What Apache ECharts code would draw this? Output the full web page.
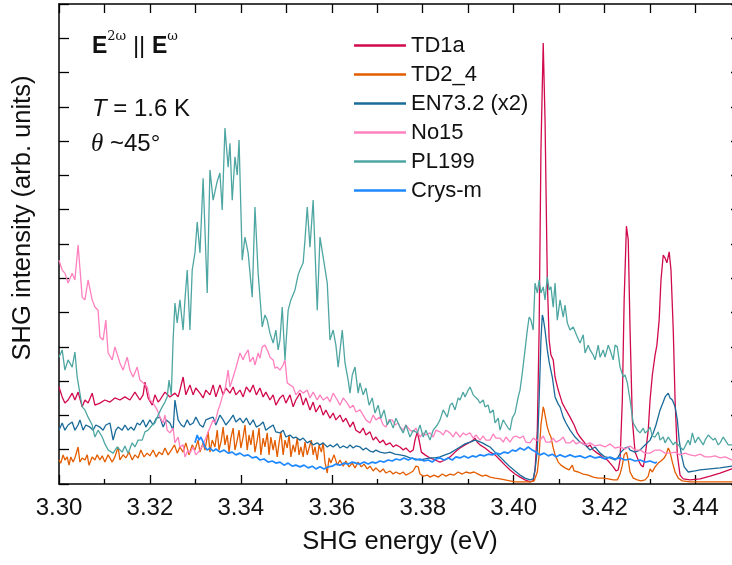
<!DOCTYPE html>
<html>
<head>
<meta charset="utf-8">
<style>
  html, body { margin: 0; padding: 0; background: #fff; }
  #chart { width: 732px; height: 565px; }
</style>
<script src="https://cdn.jsdelivr.net/npm/echarts@6/dist/echarts.min.js"></script>
</head>
<body>
<div id="chart"></div>
<script>
// SHG spectra, intensity in arbitrary units (EN73.2 shown x2)
const energyTicks = [3.30, 3.32, 3.34, 3.36, 3.38, 3.40, 3.42, 3.44];

const seriesNames = ['TD1a', 'TD2_4', 'EN73.2 (x2)', 'No15', 'PL199', 'Crys-m'];
const seriesColors = ['#d10a4e', '#e35d00', '#1a6b9a', '#ff80bf', '#4ea6a2', '#1e88ff'];
const seriesWidths = [1.3, 1.3, 1.3, 1.3, 1.3, 1.7];

const td1a = [
  [3.3000,2.83],[3.3007,2.54],[3.3013,2.36],[3.3020,2.45],[3.3029,2.65],[3.3035,2.45],[3.3042,2.68],[3.3051,2.25],
  [3.3057,2.45],[3.3064,2.36],[3.3073,2.65],[3.3079,2.30],[3.3090,2.36],[3.3101,2.45],[3.3112,2.39],[3.3123,2.51],
  [3.3134,2.45],[3.3145,2.54],[3.3156,2.45],[3.3167,2.68],[3.3178,2.45],[3.3185,2.60],[3.3189,2.97],[3.3196,2.51],
  [3.3205,2.30],[3.3211,2.60],[3.3218,2.39],[3.3222,2.45],[3.3233,2.68],[3.3244,2.54],[3.3255,2.65],[3.3262,2.54],
  [3.3266,2.74],[3.3273,3.12],[3.3279,2.60],[3.3288,2.89],[3.3295,2.60],[3.3301,2.80],[3.3310,2.65],[3.3317,2.51],
  [3.3323,2.74],[3.3332,2.60],[3.3339,2.89],[3.3345,2.54],[3.3354,2.89],[3.3361,2.60],[3.3367,2.80],[3.3376,2.65],
  [3.3383,2.83],[3.3389,2.60],[3.3398,2.74],[3.3405,2.54],[3.3412,2.83],[3.3420,2.68],[3.3427,2.89],[3.3434,2.60],
  [3.3442,2.80],[3.3449,2.54],[3.3455,2.68],[3.3464,2.45],[3.3471,2.60],[3.3477,2.30],[3.3486,2.51],[3.3493,2.60],
  [3.3499,2.36],[3.3508,2.60],[3.3515,2.25],[3.3521,2.45],[3.3530,2.65],[3.3537,2.30],[3.3543,2.51],[3.3552,2.16],
  [3.3559,2.39],[3.3565,2.10],[3.3574,2.30],[3.3581,2.01],[3.3587,2.16],[3.3596,1.92],[3.3603,2.07],[3.3609,1.87],
  [3.3618,2.01],[3.3625,1.81],[3.3631,1.92],[3.3640,1.66],[3.3647,1.81],[3.3653,1.57],[3.3662,1.49],[3.3669,1.63],
  [3.3675,1.43],[3.3684,1.52],[3.3691,1.28],[3.3697,1.37],[3.3706,1.20],[3.3713,1.28],[3.3719,1.14],[3.3728,1.20],
  [3.3735,1.08],[3.3741,1.14],[3.3750,1.08],[3.3757,0.99],[3.3763,1.05],[3.3772,0.93],[3.3779,0.99],[3.3783,1.28],
  [3.3788,1.52],[3.3792,1.28],[3.3797,0.93],[3.3805,0.85],[3.3816,0.76],[3.3827,0.70],[3.3838,0.64],[3.3849,0.70],
  [3.3860,0.79],[3.3871,0.93],[3.3882,1.05],[3.3893,1.14],[3.3904,1.22],[3.3911,1.28],[3.3915,1.34],[3.3920,1.22],
  [3.3926,1.14],[3.3937,1.05],[3.3948,0.93],[3.3959,0.85],[3.3970,0.70],[3.3981,0.55],[3.3992,0.41],[3.4003,0.29],
  [3.4014,0.20],[3.4025,0.12],[3.4036,0.06],[3.4043,0.09],[3.4047,0.41],[3.4052,1.57],[3.4056,4.49],[3.4060,9.74],
  [3.4065,12.86],[3.4069,10.62],[3.4074,5.95],[3.4078,4.20],[3.4082,3.76],[3.4087,3.62],[3.4091,3.12],[3.4098,2.74],
  [3.4107,2.36],[3.4115,2.16],[3.4124,1.95],[3.4133,1.72],[3.4140,1.49],[3.4146,1.37],[3.4155,1.22],[3.4162,1.08],
  [3.4168,1.14],[3.4175,0.99],[3.4184,0.90],[3.4190,0.85],[3.4197,0.76],[3.4206,0.70],[3.4212,0.61],[3.4219,0.50],
  [3.4225,0.38],[3.4230,0.41],[3.4234,0.70],[3.4239,2.45],[3.4243,5.37],[3.4248,7.52],[3.4252,7.12],[3.4256,4.49],
  [3.4261,1.87],[3.4267,0.93],[3.4274,0.70],[3.4280,0.55],[3.4285,0.50],[3.4289,0.79],[3.4296,1.57],[3.4300,2.45],
  [3.4305,3.18],[3.4311,3.76],[3.4315,4.05],[3.4320,4.78],[3.4324,5.95],[3.4329,6.68],[3.4333,6.59],[3.4337,6.45],
  [3.4342,6.77],[3.4346,6.24],[3.4351,4.49],[3.4355,2.45],[3.4360,0.85],[3.4366,0.26],[3.4373,0.15],[3.4388,0.12],
  [3.4410,0.15],[3.4432,0.23],[3.4454,0.32],[3.4480,0.44],[3.4500,0.48]
];

const td2_4 = [
  [3.3000,0.70],[3.3004,0.61],[3.3009,0.85],[3.3013,0.70],[3.3018,0.79],[3.3022,0.55],[3.3026,0.79],[3.3031,0.64],
  [3.3035,0.76],[3.3042,1.08],[3.3046,0.64],[3.3051,0.76],[3.3057,0.70],[3.3062,0.85],[3.3066,0.55],[3.3073,0.79],
  [3.3079,0.70],[3.3084,0.85],[3.3090,0.70],[3.3095,0.82],[3.3101,0.64],[3.3108,0.85],[3.3112,0.90],[3.3117,0.64],
  [3.3123,0.79],[3.3130,1.08],[3.3134,0.70],[3.3141,0.85],[3.3147,0.76],[3.3154,0.93],[3.3161,0.70],[3.3167,0.85],
  [3.3174,0.76],[3.3180,0.99],[3.3187,0.79],[3.3194,0.90],[3.3200,0.82],[3.3207,0.99],[3.3214,0.79],[3.3220,0.93],
  [3.3227,0.85],[3.3233,1.05],[3.3240,0.85],[3.3247,0.99],[3.3254,1.14],[3.3260,0.90],[3.3266,1.08],[3.3273,0.93],
  [3.3279,1.20],[3.3286,0.85],[3.3293,1.14],[3.3299,0.99],[3.3306,1.28],[3.3310,0.93],[3.3317,1.20],[3.3321,0.99],
  [3.3328,1.52],[3.3332,0.93],[3.3337,1.28],[3.3343,1.08],[3.3348,1.57],[3.3352,0.99],[3.3357,1.28],[3.3361,1.66],
  [3.3365,1.14],[3.3370,1.43],[3.3374,0.93],[3.3378,1.34],[3.3383,1.63],[3.3387,0.99],[3.3392,1.28],[3.3396,1.57],
  [3.3400,1.05],[3.3405,1.37],[3.3409,1.72],[3.3414,0.99],[3.3418,1.43],[3.3422,1.14],[3.3427,1.57],[3.3431,0.93],
  [3.3436,1.28],[3.3440,1.63],[3.3444,0.85],[3.3449,1.34],[3.3453,1.08],[3.3458,1.49],[3.3462,0.85],[3.3466,1.37],
  [3.3471,0.99],[3.3475,1.28],[3.3480,0.79],[3.3484,1.20],[3.3488,1.52],[3.3493,0.85],[3.3497,1.28],[3.3502,1.05],
  [3.3506,1.43],[3.3510,0.79],[3.3515,1.14],[3.3519,0.93],[3.3524,1.34],[3.3528,0.85],[3.3532,1.08],[3.3537,0.79],
  [3.3541,1.22],[3.3546,0.85],[3.3550,1.05],[3.3555,1.28],[3.3559,0.85],[3.3563,1.08],[3.3568,0.70],[3.3572,1.14],
  [3.3577,0.93],[3.3581,1.20],[3.3585,0.64],[3.3590,0.32],[3.3594,0.76],[3.3598,0.61],[3.3605,0.85],[3.3612,0.55],
  [3.3618,0.70],[3.3625,0.52],[3.3631,0.67],[3.3638,0.50],[3.3645,0.61],[3.3651,0.47],[3.3658,0.64],[3.3665,0.50],
  [3.3671,0.58],[3.3678,0.44],[3.3684,0.52],[3.3691,0.38],[3.3697,0.47],[3.3706,0.35],[3.3713,0.44],[3.3719,0.32],
  [3.3728,0.38],[3.3735,0.29],[3.3741,0.35],[3.3750,0.29],[3.3757,0.35],[3.3763,0.26],[3.3772,0.32],[3.3779,0.38],
  [3.3785,0.52],[3.3790,0.50],[3.3794,0.29],[3.3801,0.23],[3.3810,0.26],[3.3816,0.20],[3.3825,0.26],[3.3834,0.20],
  [3.3843,0.29],[3.3851,0.23],[3.3860,0.29],[3.3869,0.26],[3.3878,0.35],[3.3887,0.29],[3.3895,0.35],[3.3904,0.32],
  [3.3913,0.35],[3.3922,0.29],[3.3931,0.23],[3.3939,0.26],[3.3948,0.20],[3.3959,0.17],[3.3970,0.15],[3.3981,0.12],
  [3.3992,0.09],[3.4003,0.06],[3.4014,0.06],[3.4025,0.06],[3.4036,0.06],[3.4045,0.09],[3.4052,0.35],[3.4056,0.85],
  [3.4060,1.72],[3.4065,2.25],[3.4067,2.16],[3.4069,2.01],[3.4074,1.66],[3.4078,1.49],[3.4082,1.37],[3.4087,1.05],
  [3.4091,0.85],[3.4098,0.64],[3.4104,0.55],[3.4113,0.47],[3.4122,0.41],[3.4129,0.55],[3.4133,0.38],[3.4142,0.35],
  [3.4153,0.29],[3.4164,0.26],[3.4175,0.20],[3.4186,0.17],[3.4197,0.17],[3.4208,0.15],[3.4219,0.12],[3.4228,0.12],
  [3.4234,0.29],[3.4239,0.55],[3.4243,0.85],[3.4248,0.93],[3.4252,0.70],[3.4256,0.35],[3.4263,0.17],[3.4272,0.12],
  [3.4280,0.09],[3.4289,0.12],[3.4296,0.23],[3.4300,0.44],[3.4305,0.35],[3.4311,0.50],[3.4318,0.61],[3.4324,0.67],
  [3.4331,0.76],[3.4335,0.85],[3.4340,1.05],[3.4344,0.93],[3.4349,0.64],[3.4355,0.35],[3.4362,0.17],[3.4371,0.09],
  [3.4388,0.06],[3.4410,0.06],[3.4443,0.06],[3.4480,0.06],[3.4500,0.06]
];

const en73 = [
  [3.3000,1.57],[3.3007,1.78],[3.3013,1.57],[3.3020,1.72],[3.3029,1.81],[3.3035,1.57],[3.3042,1.72],[3.3046,1.87],
  [3.3053,1.57],[3.3059,1.72],[3.3068,1.66],[3.3075,1.57],[3.3081,1.72],[3.3090,1.66],[3.3097,1.57],[3.3103,1.72],
  [3.3112,1.78],[3.3119,1.28],[3.3125,1.57],[3.3130,1.66],[3.3139,1.57],[3.3145,1.72],[3.3152,1.57],[3.3158,1.66],
  [3.3165,1.57],[3.3172,1.78],[3.3178,1.72],[3.3185,1.87],[3.3191,1.66],[3.3200,1.87],[3.3207,1.72],[3.3214,1.92],
  [3.3222,1.95],[3.3229,1.66],[3.3236,1.87],[3.3244,1.78],[3.3251,1.57],[3.3255,2.45],[3.3262,1.87],[3.3269,1.72],
  [3.3275,1.66],[3.3282,1.87],[3.3288,1.72],[3.3295,1.78],[3.3301,1.95],[3.3310,1.72],[3.3317,1.66],[3.3323,1.87],
  [3.3332,1.92],[3.3339,1.95],[3.3345,1.72],[3.3354,2.01],[3.3361,1.87],[3.3367,1.72],[3.3376,1.87],[3.3383,2.01],
  [3.3389,1.81],[3.3398,1.92],[3.3405,1.78],[3.3412,1.92],[3.3420,1.72],[3.3427,1.87],[3.3434,1.66],[3.3442,1.72],
  [3.3449,1.81],[3.3455,1.57],[3.3464,1.66],[3.3471,1.72],[3.3477,1.52],[3.3486,1.49],[3.3493,1.57],[3.3499,1.37],
  [3.3508,1.43],[3.3515,1.34],[3.3521,1.37],[3.3530,1.28],[3.3537,1.34],[3.3546,1.20],[3.3552,1.25],[3.3559,1.14],
  [3.3568,1.20],[3.3574,1.14],[3.3581,1.20],[3.3590,1.08],[3.3596,1.14],[3.3603,1.08],[3.3612,1.17],[3.3618,1.05],
  [3.3625,1.11],[3.3634,1.05],[3.3640,1.14],[3.3647,1.05],[3.3653,1.11],[3.3662,1.08],[3.3669,0.99],[3.3675,1.05],
  [3.3684,0.96],[3.3691,0.93],[3.3697,0.99],[3.3706,0.93],[3.3717,0.90],[3.3728,0.93],[3.3739,0.87],[3.3750,0.85],
  [3.3761,0.82],[3.3772,0.76],[3.3783,0.73],[3.3794,0.70],[3.3805,0.73],[3.3816,0.76],[3.3827,0.76],[3.3838,0.79],
  [3.3849,0.85],[3.3860,0.90],[3.3871,0.99],[3.3882,1.08],[3.3893,1.17],[3.3904,1.22],[3.3915,1.28],[3.3922,1.25],
  [3.3931,1.20],[3.3939,1.14],[3.3948,1.08],[3.3959,0.93],[3.3970,0.79],[3.3981,0.64],[3.3992,0.50],[3.4003,0.38],
  [3.4014,0.26],[3.4025,0.17],[3.4036,0.12],[3.4043,0.15],[3.4047,0.41],[3.4052,0.99],[3.4056,2.45],[3.4060,4.20],
  [3.4063,4.93],[3.4065,4.84],[3.4069,4.49],[3.4074,3.91],[3.4078,3.56],[3.4085,3.12],[3.4091,2.54],[3.4098,2.33],
  [3.4102,2.25],[3.4109,1.95],[3.4115,1.78],[3.4124,1.57],[3.4135,1.37],[3.4146,1.22],[3.4157,1.14],[3.4168,0.99],
  [3.4179,1.08],[3.4190,0.90],[3.4201,0.79],[3.4212,0.76],[3.4223,0.70],[3.4230,0.79],[3.4236,0.93],[3.4245,1.05],
  [3.4252,1.08],[3.4256,0.99],[3.4267,0.93],[3.4278,0.99],[3.4289,1.14],[3.4300,1.28],[3.4307,1.49],[3.4313,1.72],
  [3.4322,2.16],[3.4329,2.39],[3.4333,2.54],[3.4340,2.65],[3.4344,2.51],[3.4349,2.45],[3.4355,2.25],[3.4360,1.87],
  [3.4364,1.28],[3.4369,0.85],[3.4375,0.50],[3.4384,0.35],[3.4399,0.38],[3.4410,0.41],[3.4432,0.44],[3.4454,0.47],
  [3.4480,0.52],[3.4500,0.55]
];

const no15 = [
  [3.3000,6.53],[3.3007,6.24],[3.3013,6.15],[3.3020,5.86],[3.3029,6.15],[3.3035,5.95],[3.3042,6.97],[3.3051,5.45],
  [3.3057,5.37],[3.3064,5.95],[3.3073,5.37],[3.3079,5.16],[3.3086,5.07],[3.3090,4.29],[3.3097,4.20],[3.3103,4.78],
  [3.3108,3.82],[3.3117,3.62],[3.3123,4.00],[3.3130,3.70],[3.3134,3.53],[3.3141,3.32],[3.3150,3.70],[3.3156,3.32],
  [3.3163,3.12],[3.3172,3.41],[3.3178,3.03],[3.3185,2.95],[3.3194,2.83],[3.3200,2.45],[3.3207,2.36],[3.3216,2.16],
  [3.3222,1.95],[3.3229,1.78],[3.3233,2.01],[3.3238,1.57],[3.3244,1.49],[3.3251,1.63],[3.3255,1.20],[3.3262,1.37],
  [3.3266,1.08],[3.3273,1.14],[3.3277,0.79],[3.3284,0.99],[3.3288,0.90],[3.3295,1.08],[3.3301,0.85],[3.3310,0.99],
  [3.3317,1.14],[3.3321,1.28],[3.3328,1.52],[3.3332,1.57],[3.3339,1.87],[3.3343,1.78],[3.3350,2.16],[3.3354,2.30],
  [3.3359,2.54],[3.3365,2.74],[3.3372,3.32],[3.3376,2.83],[3.3383,3.12],[3.3389,3.38],[3.3398,3.82],[3.3405,3.62],
  [3.3409,3.76],[3.3416,3.91],[3.3420,3.56],[3.3427,3.70],[3.3431,3.47],[3.3438,3.82],[3.3442,3.67],[3.3447,4.00],
  [3.3453,4.05],[3.3460,3.85],[3.3464,3.70],[3.3471,3.62],[3.3475,3.38],[3.3480,3.41],[3.3486,3.32],[3.3493,3.47],
  [3.3497,3.62],[3.3502,2.95],[3.3508,2.89],[3.3515,2.83],[3.3521,2.60],[3.3530,2.74],[3.3537,2.65],[3.3546,2.74],
  [3.3552,2.51],[3.3559,2.68],[3.3568,2.45],[3.3574,2.60],[3.3581,2.45],[3.3590,2.54],[3.3596,2.39],[3.3603,2.65],
  [3.3612,2.45],[3.3618,2.30],[3.3625,2.51],[3.3634,2.36],[3.3640,2.22],[3.3647,2.30],[3.3653,2.10],[3.3662,2.16],
  [3.3669,2.01],[3.3675,1.87],[3.3684,1.78],[3.3691,2.01],[3.3697,1.87],[3.3706,1.95],[3.3713,1.72],[3.3719,1.66],
  [3.3726,1.87],[3.3733,1.87],[3.3739,1.72],[3.3746,1.78],[3.3750,1.66],[3.3757,1.57],[3.3763,1.72],[3.3772,1.57],
  [3.3779,1.52],[3.3785,1.63],[3.3794,1.37],[3.3801,1.49],[3.3807,1.43],[3.3816,1.49],[3.3823,1.37],[3.3829,1.57],
  [3.3838,1.52],[3.3845,1.43],[3.3851,1.57],[3.3860,1.49],[3.3867,1.37],[3.3873,1.52],[3.3882,1.37],[3.3889,1.49],
  [3.3895,1.43],[3.3904,1.49],[3.3911,1.34],[3.3917,1.43],[3.3926,1.28],[3.3933,1.40],[3.3939,1.28],[3.3948,1.28],
  [3.3955,1.46],[3.3961,1.34],[3.3970,1.34],[3.3977,1.22],[3.3983,1.37],[3.3992,1.22],[3.3999,1.37],[3.4005,1.40],
  [3.4014,1.34],[3.4021,1.40],[3.4027,1.22],[3.4036,1.20],[3.4043,1.34],[3.4049,1.28],[3.4058,1.28],[3.4065,1.40],
  [3.4071,1.22],[3.4080,1.22],[3.4087,1.34],[3.4093,1.22],[3.4102,1.28],[3.4109,1.37],[3.4115,1.20],[3.4124,1.20],
  [3.4131,1.28],[3.4137,1.17],[3.4146,1.22],[3.4157,1.14],[3.4168,1.20],[3.4179,1.11],[3.4190,1.14],[3.4201,1.08],
  [3.4212,1.17],[3.4223,1.05],[3.4234,1.08],[3.4245,1.02],[3.4256,1.11],[3.4267,0.99],[3.4278,0.99],[3.4289,0.90],
  [3.4300,0.90],[3.4311,0.99],[3.4322,0.99],[3.4333,0.90],[3.4344,0.90],[3.4355,0.93],[3.4366,0.85],[3.4377,0.90],
  [3.4388,0.85],[3.4399,0.82],[3.4410,0.87],[3.4421,0.79],[3.4432,0.79],[3.4443,0.82],[3.4454,0.76],[3.4465,0.79],
  [3.4480,0.70],[3.4500,0.70]
];

const pl199 = [
  [3.3000,3.70],[3.3007,3.91],[3.3013,3.32],[3.3020,3.62],[3.3029,3.41],[3.3035,3.85],[3.3040,3.12],[3.3051,2.25],
  [3.3057,2.16],[3.3064,1.95],[3.3073,1.72],[3.3079,1.37],[3.3086,1.57],[3.3095,1.37],[3.3101,1.17],[3.3108,0.99],
  [3.3119,0.90],[3.3128,1.08],[3.3139,0.93],[3.3145,1.11],[3.3152,0.90],[3.3161,1.20],[3.3167,1.08],[3.3174,1.28],
  [3.3183,1.28],[3.3189,1.52],[3.3196,1.57],[3.3205,1.72],[3.3211,1.78],[3.3218,2.01],[3.3227,2.25],[3.3233,2.39],
  [3.3238,2.54],[3.3242,3.03],[3.3247,2.60],[3.3251,4.20],[3.3255,5.28],[3.3260,4.70],[3.3266,5.37],[3.3273,4.49],
  [3.3277,5.37],[3.3282,6.24],[3.3288,4.49],[3.3293,6.24],[3.3299,6.74],[3.3304,7.64],[3.3310,6.74],[3.3317,8.92],
  [3.3326,5.57],[3.3332,9.16],[3.3339,8.28],[3.3348,8.83],[3.3354,9.07],[3.3359,7.99],[3.3365,10.38],[3.3372,9.24],
  [3.3376,9.94],[3.3381,8.28],[3.3387,9.54],[3.3392,9.01],[3.3396,10.03],[3.3403,6.53],[3.3409,7.20],[3.3416,6.74],
  [3.3425,5.45],[3.3431,8.08],[3.3438,6.15],[3.3447,4.58],[3.3453,4.93],[3.3458,4.78],[3.3464,4.40],[3.3471,4.11],
  [3.3477,4.49],[3.3482,3.91],[3.3486,4.20],[3.3491,5.16],[3.3497,3.62],[3.3504,5.07],[3.3510,5.37],[3.3519,5.66],
  [3.3526,6.10],[3.3530,6.24],[3.3537,6.45],[3.3541,7.12],[3.3546,8.08],[3.3552,6.91],[3.3559,8.28],[3.3568,5.07],
  [3.3574,7.20],[3.3581,6.62],[3.3590,5.86],[3.3596,4.20],[3.3603,4.49],[3.3609,4.05],[3.3614,3.41],[3.3623,4.49],
  [3.3629,3.53],[3.3636,3.03],[3.3640,2.65],[3.3645,3.18],[3.3651,3.41],[3.3658,2.65],[3.3662,2.95],[3.3669,2.60],
  [3.3675,2.80],[3.3682,2.30],[3.3689,2.51],[3.3695,2.07],[3.3702,2.30],[3.3708,1.92],[3.3715,2.16],[3.3722,1.72],
  [3.3728,1.87],[3.3735,1.63],[3.3741,1.92],[3.3750,1.66],[3.3757,1.49],[3.3763,1.72],[3.3772,1.37],[3.3779,1.57],
  [3.3788,1.49],[3.3794,1.72],[3.3801,1.37],[3.3807,1.57],[3.3816,1.28],[3.3823,1.57],[3.3832,1.72],[3.3838,1.87],
  [3.3845,2.16],[3.3854,1.95],[3.3860,2.30],[3.3865,2.36],[3.3871,2.16],[3.3878,2.51],[3.3882,2.45],[3.3889,2.68],
  [3.3893,2.54],[3.3900,2.74],[3.3904,2.83],[3.3911,2.60],[3.3915,2.65],[3.3922,2.45],[3.3926,2.36],[3.3933,2.45],
  [3.3937,2.25],[3.3944,2.30],[3.3948,2.07],[3.3955,2.16],[3.3959,1.78],[3.3966,1.92],[3.3970,1.57],[3.3977,1.87],
  [3.3981,1.78],[3.3988,1.63],[3.3992,1.57],[3.3997,1.92],[3.4003,2.07],[3.4010,2.54],[3.4014,2.74],[3.4019,3.24],
  [3.4025,3.91],[3.4030,4.49],[3.4034,4.87],[3.4038,4.78],[3.4043,4.49],[3.4047,5.86],[3.4052,5.57],[3.4056,5.95],
  [3.4060,5.57],[3.4065,5.75],[3.4069,5.37],[3.4074,6.04],[3.4078,5.66],[3.4082,5.75],[3.4087,5.16],[3.4091,5.86],
  [3.4096,4.78],[3.4102,5.37],[3.4109,4.87],[3.4113,5.22],[3.4118,4.70],[3.4124,4.49],[3.4131,4.58],[3.4140,4.29],
  [3.4146,4.11],[3.4153,4.35],[3.4157,3.82],[3.4164,4.05],[3.4168,3.91],[3.4175,3.76],[3.4179,3.62],[3.4186,4.05],
  [3.4190,3.70],[3.4197,3.91],[3.4201,3.70],[3.4208,4.05],[3.4212,3.91],[3.4219,3.62],[3.4223,4.05],[3.4228,4.00],
  [3.4234,3.41],[3.4241,3.12],[3.4245,3.18],[3.4250,2.95],[3.4256,2.45],[3.4263,1.78],[3.4272,1.57],[3.4278,1.49],
  [3.4285,1.63],[3.4289,1.49],[3.4296,1.57],[3.4300,1.66],[3.4305,1.40],[3.4311,1.37],[3.4318,1.52],[3.4322,1.28],
  [3.4329,1.37],[3.4333,1.20],[3.4340,1.37],[3.4344,1.37],[3.4351,1.14],[3.4355,1.22],[3.4362,1.14],[3.4366,1.08],
  [3.4373,0.99],[3.4377,0.99],[3.4384,1.28],[3.4388,1.14],[3.4393,1.49],[3.4399,1.20],[3.4406,1.37],[3.4410,1.37],
  [3.4417,1.14],[3.4421,1.28],[3.4428,1.43],[3.4432,1.43],[3.4439,1.28],[3.4443,1.34],[3.4450,1.14],[3.4454,1.20],
  [3.4461,1.37],[3.4465,1.37],[3.4472,1.14],[3.4480,1.14],[3.4495,1.17]
];

const crysM = [
  [3.3299,1.20],[3.3304,1.43],[3.3308,1.28],[3.3312,1.37],[3.3317,1.22],[3.3321,1.08],[3.3326,0.99],[3.3332,1.05],
  [3.3339,0.96],[3.3345,1.02],[3.3354,0.93],[3.3363,0.99],[3.3372,0.90],[3.3381,0.93],[3.3389,0.85],[3.3398,0.90],
  [3.3407,0.82],[3.3416,0.85],[3.3425,0.76],[3.3434,0.79],[3.3442,0.70],[3.3451,0.73],[3.3460,0.64],[3.3469,0.67],
  [3.3477,0.61],[3.3486,0.64],[3.3495,0.55],[3.3504,0.61],[3.3513,0.52],[3.3521,0.55],[3.3530,0.50],[3.3539,0.55],
  [3.3548,0.47],[3.3557,0.52],[3.3565,0.44],[3.3574,0.50],[3.3583,0.44],[3.3592,0.50],[3.3601,0.52],[3.3609,0.58],
  [3.3618,0.55],[3.3627,0.61],[3.3636,0.58],[3.3645,0.64],[3.3653,0.61],[3.3662,0.58],[3.3671,0.64],[3.3680,0.58],
  [3.3689,0.64],[3.3697,0.61],[3.3706,0.67],[3.3715,0.64],[3.3724,0.70],[3.3733,0.67],[3.3741,0.73],[3.3750,0.70],
  [3.3759,0.76],[3.3768,0.70],[3.3777,0.76],[3.3785,0.70],[3.3794,0.73],[3.3803,0.67],[3.3812,0.70],[3.3821,0.64],
  [3.3829,0.73],[3.3838,0.76],[3.3847,0.70],[3.3856,0.76],[3.3865,0.70],[3.3873,0.79],[3.3882,0.76],[3.3891,0.82],
  [3.3900,0.76],[3.3909,0.82],[3.3917,0.79],[3.3926,0.85],[3.3935,0.82],[3.3944,0.87],[3.3953,0.85],[3.3961,0.90],
  [3.3970,0.87],[3.3979,0.93],[3.3988,0.90],[3.3997,0.99],[3.4005,0.96],[3.4014,1.05],[3.4023,0.99],[3.4032,1.08],
  [3.4041,0.99],[3.4049,0.93],[3.4058,0.85],[3.4067,0.90],[3.4076,0.82],[3.4085,0.87],[3.4093,0.79],[3.4102,0.85],
  [3.4113,0.79],[3.4124,0.85],[3.4135,0.79],[3.4146,0.82],[3.4157,0.76],[3.4168,0.82],[3.4179,0.76],[3.4190,0.79],
  [3.4201,0.73],[3.4212,0.79],[3.4223,0.73],[3.4234,0.76],[3.4245,0.70],[3.4256,0.73],[3.4267,0.67],[3.4278,0.70],
  [3.4289,0.64],[3.4300,0.67],[3.4311,0.61],[3.4315,0.64]
];

const seriesData = [td1a, td2_4, en73, no15, pl199, crysM];

const chart = echarts.init(document.getElementById('chart'), null, { renderer: 'canvas' });

const FONT = 'Liberation Sans, Arial, Helvetica, sans-serif';

const option = {
  animation: false,
  backgroundColor: '#ffffff',
  grid: {
    left: 59, top: 4, width: 682, height: 480,
    containLabel: false,
    outerBoundsMode: 'none'
  },
  legend: {
    orient: 'vertical',
    left: 349,
    top: 28,
    itemWidth: 52,
    itemHeight: 12,
    itemGap: 4,
    data: seriesNames.map((n, i) => ({
      name: n,
      icon: 'path://M0,0 L52,0 L52,2.4 L0,2.4 Z',
      itemStyle: { color: seriesColors[i] }
    })),
    textStyle: { fontFamily: FONT, fontSize: 22, color: '#111', lineHeight: 25 }
  },
  xAxis: [
    {
      type: 'value',
      position: 'bottom',
      min: 3.30,
      max: 3.45,
      interval: 0.02,
      name: 'SHG energy (eV)',
      nameLocation: 'middle',
      nameGap: 45,
      nameTextStyle: { fontFamily: FONT, fontSize: 25.5, color: '#111' },
      axisLine: { show: true, onZero: false, lineStyle: { color: '#000', width: 1.5 } },
      axisTick: { show: true, inside: true, length: 9, lineStyle: { color: '#000', width: 1.3 } },
      minorTick: { show: true, splitNumber: 2, length: 5, lineStyle: { color: '#000', width: 1.3 } },
      axisLabel: {
        show: true, margin: 12, fontFamily: FONT, fontSize: 24, color: '#111',
        formatter: v => energyTicks.some(t => Math.abs(t - v) < 1e-6) ? v.toFixed(2) : ''
      },
      splitLine: { show: false }
    },
    {
      type: 'value',
      position: 'top',
      min: 3.30,
      max: 3.45,
      interval: 0.01,
      axisLine: { show: true, onZero: false, lineStyle: { color: '#000', width: 1.5 } },
      axisTick: { show: true, inside: true, length: 9, lineStyle: { color: '#000', width: 1.3 } },
      axisLabel: { show: false },
      splitLine: { show: false }
    }
  ],
  yAxis: [
    {
      type: 'value',
      position: 'left',
      min: 0,
      max: 14,
      interval: 1,
      axisLine: { show: true, onZero: false, lineStyle: { color: '#000', width: 1.5 } },
      axisTick: { show: true, inside: true, length: 10, lineStyle: { color: '#000', width: 1.3 } },
      axisLabel: { show: false },
      splitLine: { show: false }
    },
    {
      type: 'value',
      position: 'right',
      min: 0,
      max: 14,
      interval: 1,
      axisLine: { show: true, onZero: false, lineStyle: { color: '#000', width: 1.5 } },
      axisTick: { show: true, inside: true, length: 10, lineStyle: { color: '#000', width: 1.3 } },
      axisLabel: { show: false },
      splitLine: { show: false }
    }
  ],
  series: seriesNames.map((name, i) => ({
    name: name,
    type: 'line',
    xAxisIndex: 0,
    yAxisIndex: 0,
    data: seriesData[i],
    symbol: 'none',
    smooth: false,
    clip: true,
    color: seriesColors[i],
    lineStyle: { color: seriesColors[i], width: seriesWidths[i] },
    z: 2 + i
  })),
  graphic: [
    {
      // vertical axis title
      type: 'text',
      x: 23,
      y: 218,
      rotation: Math.PI / 2,
      style: {
        text: 'SHG intensity (arb. units)',
        font: '25.5px ' + FONT,
        fill: '#111',
        align: 'center',
        verticalAlign: 'middle'
      }
    },
    {
      type: 'text',
      left: 92,
      top: 30,
      style: {
        text: '{b|E}{s|2ω}{n| || }{b|E}{s|ω}',
        fill: '#111',
        rich: {
          b: { fontFamily: FONT, fontSize: 23, fontWeight: 'bold', fill: '#111', verticalAlign: 'bottom', lineHeight: 28 },
          s: { fontFamily: 'DejaVu Serif, serif', fontSize: 13, fill: '#111', verticalAlign: 'top', lineHeight: 28 },
          n: { fontFamily: FONT, fontSize: 24, fill: '#111', verticalAlign: 'bottom', lineHeight: 28 }
        }
      }
    },
    {
      type: 'text',
      left: 92,
      top: 97,
      style: {
        text: '{i|T}{n| = 1.6 K}',
        fill: '#111',
        rich: {
          i: { fontFamily: FONT, fontSize: 24, fontStyle: 'italic', fill: '#111' },
          n: { fontFamily: FONT, fontSize: 24, fill: '#111' }
        }
      }
    },
    {
      type: 'text',
      left: 91,
      top: 132,
      style: {
        text: '{t|θ}{n| ~45°}',
        fill: '#111',
        rich: {
          t: { fontFamily: 'Liberation Serif, serif', fontSize: 25, fontStyle: 'italic', fill: '#111' },
          n: { fontFamily: FONT, fontSize: 24, fill: '#111' }
        }
      }
    }
  ]
};

chart.setOption(option);
</script>
</body>
</html>
